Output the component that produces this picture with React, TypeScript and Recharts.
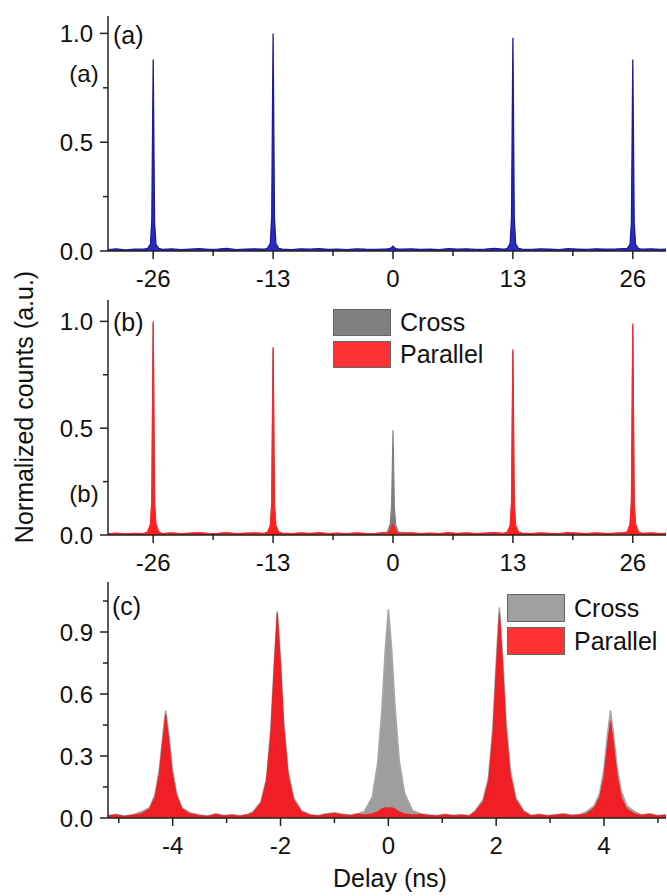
import { ComposedChart, Area, XAxis, YAxis, Legend } from "recharts"

const FONT = "Arial, 'Liberation Sans', Helvetica, sans-serif"
const INK = "#111"
const AXIS = "#222"

// panels (a) and (b): delay grid in ns
const delayWide = [
  -31, -30, -29, -28, -27,
  -26.6, -26.3, -26.15, -26, -25.85, -25.7, -25.4,
  -25, -24, -23, -22, -21, -20, -19, -18, -17, -16, -15, -14,
  -13.6, -13.3, -13.15, -13, -12.85, -12.7, -12.4,
  -12, -11, -10, -9, -8, -7, -6, -5, -4, -3, -2, -1,
  -0.6, -0.3, -0.15, 0, 0.15, 0.3, 0.6,
  1, 2, 3, 4, 5, 6, 7, 8, 9, 10, 11, 12,
  12.4, 12.7, 12.85, 13, 13.15, 13.3, 13.6,
  14, 15, 16, 17, 18, 19, 20, 21, 22, 23, 24, 25,
  25.4, 25.7, 25.85, 26, 26.15, 26.3, 26.6,
  27, 28, 29, 30,
]

const countsA = [
  0.006, 0.010, 0.005, 0.008, 0.009,
  0.012, 0.03, 0.14, 0.88, 0.13, 0.03, 0.012,
  0.007, 0.010, 0.006, 0.009, 0.011, 0.007, 0.008, 0.012, 0.006, 0.009, 0.010, 0.008,
  0.013, 0.035, 0.16, 1.0, 0.15, 0.035, 0.012,
  0.009, 0.006, 0.010, 0.008, 0.011, 0.007, 0.009, 0.006, 0.010, 0.008, 0.007, 0.009,
  0.010, 0.012, 0.016, 0.022, 0.015, 0.011, 0.009,
  0.008, 0.010, 0.007, 0.009, 0.006, 0.011, 0.008, 0.010, 0.007, 0.009, 0.012, 0.008,
  0.012, 0.034, 0.15, 0.98, 0.15, 0.033, 0.012,
  0.009, 0.007, 0.010, 0.008, 0.006, 0.011, 0.009, 0.007, 0.010, 0.008, 0.009, 0.011,
  0.012, 0.03, 0.13, 0.88, 0.13, 0.03, 0.012,
  0.008, 0.010, 0.007, 0.009,
]

const crossB = [
  0.005, 0.008, 0.004, 0.007, 0.006,
  0.012, 0.045, 0.15, 0.99, 0.14, 0.045, 0.012,
  0.006, 0.009, 0.005, 0.008, 0.010, 0.006, 0.007, 0.010, 0.005, 0.008, 0.009, 0.007,
  0.012, 0.04, 0.14, 0.87, 0.13, 0.04, 0.012,
  0.008, 0.005, 0.009, 0.007, 0.010, 0.006, 0.008, 0.005, 0.009, 0.007, 0.006, 0.012,
  0.014, 0.05, 0.14, 0.49, 0.13, 0.045, 0.013,
  0.012, 0.009, 0.006, 0.008, 0.005, 0.010, 0.007, 0.009, 0.006, 0.008, 0.010, 0.007,
  0.012, 0.04, 0.14, 0.86, 0.13, 0.04, 0.012,
  0.008, 0.006, 0.009, 0.007, 0.005, 0.010, 0.008, 0.006, 0.009, 0.007, 0.008, 0.010,
  0.012, 0.045, 0.15, 0.98, 0.14, 0.045, 0.012,
  0.007, 0.009, 0.006, 0.008,
]

const parallelB = [
  0.006, 0.009, 0.005, 0.008, 0.007,
  0.015, 0.05, 0.16, 1.0, 0.15, 0.05, 0.015,
  0.007, 0.010, 0.006, 0.009, 0.011, 0.007, 0.008, 0.011, 0.006, 0.009, 0.010, 0.008,
  0.014, 0.045, 0.15, 0.88, 0.14, 0.045, 0.014,
  0.009, 0.006, 0.010, 0.008, 0.011, 0.007, 0.009, 0.006, 0.010, 0.008, 0.007, 0.009,
  0.009, 0.02, 0.04, 0.05, 0.04, 0.018, 0.009,
  0.008, 0.010, 0.007, 0.009, 0.006, 0.011, 0.008, 0.010, 0.007, 0.009, 0.011, 0.008,
  0.014, 0.045, 0.15, 0.87, 0.14, 0.045, 0.014,
  0.009, 0.007, 0.010, 0.008, 0.006, 0.011, 0.009, 0.007, 0.010, 0.008, 0.009, 0.011,
  0.015, 0.05, 0.16, 0.99, 0.15, 0.05, 0.015,
  0.008, 0.010, 0.007, 0.009,
]

// panel (c): zoom around zero delay
const delayC = [
  -5.2, -5.05, -4.9, -4.75,
  -4.58, -4.43, -4.33, -4.25, -4.19, -4.13, -4.07, -4.01, -3.93, -3.83, -3.68,
  -3.5, -3.35, -3.2, -3.05, -2.9, -2.75, -2.6,
  -2.51, -2.36, -2.26, -2.18, -2.12, -2.06, -2.0, -1.94, -1.86, -1.76, -1.61,
  -1.45, -1.3, -1.15, -1.0, -0.85, -0.7, -0.55,
  -0.45, -0.3, -0.2, -0.12, -0.06, 0, 0.06, 0.12, 0.2, 0.3, 0.45,
  0.6, 0.75, 0.9, 1.05, 1.2, 1.35, 1.5,
  1.61, 1.76, 1.86, 1.94, 2.0, 2.06, 2.12, 2.18, 2.26, 2.36, 2.51,
  2.65, 2.8, 2.95, 3.1, 3.25, 3.4, 3.55,
  3.67, 3.82, 3.92, 4.0, 4.06, 4.12, 4.18, 4.24, 4.32, 4.42, 4.57,
  4.7, 4.85, 5.0, 5.15, 5.3,
]

const crossC = [
  0.012, 0.018, 0.010, 0.015,
  0.03, 0.05, 0.11, 0.23, 0.38, 0.52, 0.40, 0.24, 0.12, 0.05, 0.025,
  0.014, 0.010, 0.020, 0.012, 0.016, 0.011, 0.018,
  0.03, 0.08, 0.19, 0.43, 0.73, 1.0, 0.76, 0.46, 0.23, 0.1, 0.035,
  0.016, 0.012, 0.020, 0.025, 0.018, 0.014, 0.022,
  0.03, 0.1, 0.26, 0.52, 0.8, 1.01, 0.82, 0.55, 0.28, 0.12, 0.035,
  0.02, 0.015, 0.012, 0.018, 0.013, 0.016, 0.012,
  0.035, 0.09, 0.2, 0.44, 0.75, 1.02, 0.77, 0.47, 0.24, 0.1, 0.035,
  0.013, 0.018, 0.012, 0.016, 0.02, 0.014, 0.017,
  0.03, 0.06, 0.12, 0.24, 0.39, 0.52, 0.40, 0.25, 0.13, 0.06, 0.03,
  0.015, 0.02, 0.012, 0.016, 0.013,
]

const parallelC = [
  0.010, 0.015, 0.008, 0.014,
  0.02, 0.045, 0.10, 0.21, 0.36, 0.50, 0.37, 0.22, 0.11, 0.045, 0.02,
  0.012, 0.008, 0.018, 0.010, 0.014, 0.009, 0.016,
  0.025, 0.075, 0.18, 0.41, 0.71, 0.99, 0.74, 0.44, 0.21, 0.09, 0.03,
  0.014, 0.010, 0.018, 0.022, 0.016, 0.012, 0.02,
  0.015, 0.02, 0.03, 0.045, 0.05, 0.048, 0.05, 0.045, 0.03, 0.02, 0.015,
  0.018, 0.012, 0.010, 0.016, 0.011, 0.014, 0.01,
  0.03, 0.08, 0.18, 0.41, 0.71, 0.99, 0.74, 0.44, 0.21, 0.09, 0.03,
  0.011, 0.016, 0.010, 0.014, 0.018, 0.012, 0.015,
  0.02, 0.05, 0.1, 0.2, 0.34, 0.47, 0.35, 0.21, 0.1, 0.045, 0.02,
  0.013, 0.018, 0.01, 0.014, 0.011,
]

const wideTicks = [-26, -19.5, -13, -6.5, 0, 6.5, 13, 19.5, 26]
const wideMajors = [-26, -13, 0, 13, 26]
const unitTicks = [0, 0.25, 0.5, 0.75, 1]
const unitMajors = [0, 0.5, 1]
const nsTicks = [-5, -4, -3, -2, -1, 0, 1, 2, 3, 4, 5]
const nsMajors = [-4, -2, 0, 2, 4]
const cTicks = [0, 0.15, 0.3, 0.45, 0.6, 0.75, 0.9, 1.05]
const cMajors = [0, 0.3, 0.6, 0.9]

const rowsWide = delayWide.map((d, i) => ({ delay: d, a: countsA[i], cross: crossB[i], parallel: parallelB[i] }))
const rowsC = delayC.map((d, i) => ({ delay: d, cross: crossC[i], parallel: parallelC[i] }))

const axisLine = { stroke: AXIS, strokeWidth: 1.5 }

function BottomTick(props: any) {
  const { x, y, payload, majors } = props
  const major = majors.includes(payload.value)
  return (
    <g>
      <line x1={x} y1={y} x2={x} y2={y + (major ? 8 : 5)} stroke={AXIS} strokeWidth={1.5} />
      {major && (
        <text x={x} y={y + 36} textAnchor="middle" fontSize={24} fontFamily={FONT} fill={INK}>
          {payload.value}
        </text>
      )}
    </g>
  )
}

function LeftTick(props: any) {
  const { x, y, payload, majors } = props
  const major = majors.includes(payload.value)
  return (
    <g>
      <line x1={x} y1={y} x2={x - (major ? 8 : 5)} y2={y} stroke={AXIS} strokeWidth={1.5} />
      {major && (
        <text x={x - 15} y={y + 8.5} textAnchor="end" fontSize={24} fontFamily={FONT} fill={INK}>
          {payload.value.toFixed(1)}
        </text>
      )}
    </g>
  )
}

function TopTick(props: any) {
  const { x, y } = props
  return <line x1={x} y1={y} x2={x} y2={y + 7} stroke={AXIS} strokeWidth={1.5} />
}

function RightTick(props: any) {
  const { x, y, payload, majors } = props
  const major = majors.includes(payload.value)
  return <line x1={x} y1={y} x2={x - (major ? 7 : 4)} y2={y} stroke={AXIS} strokeWidth={1.5} />
}

function SwatchLegend(props: any) {
  const { payload, swatches, rowH } = props
  return (
    <div>
      {(payload || []).map((p: any) => (
        <div key={p.value} style={{ display: "flex", alignItems: "center", height: rowH, marginBottom: 5 }}>
          <div style={{ width: 56, height: rowH - 2, background: swatches[p.dataKey], border: "1px solid #666" }} />
          <span style={{ marginLeft: 9, fontSize: 25, color: INK, fontFamily: FONT, lineHeight: `${rowH}px` }}>
            {p.value}
          </span>
        </div>
      ))}
    </div>
  )
}

// panels (a) and (b) share the same frame; extra bottom margin keeps tick labels inside the svg
function WidePanel({ children, yMax, legend }: any) {
  return (
    <ComposedChart width={667} height={302} data={rowsWide} margin={{ top: 16, right: 1, left: 0, bottom: 12 }}>
      <XAxis
        xAxisId="b" dataKey="delay" type="number" domain={[-30.9, 29.6]} allowDataOverflow
        ticks={wideTicks} interval={0} tickSize={0} tickMargin={0} tickLine={false} height={39}
        axisLine={axisLine} tick={<BottomTick majors={wideMajors} />}
      />
      <XAxis xAxisId="t" orientation="top" dataKey="delay" type="number" domain={[-30.9, 29.6]} allowDataOverflow
        height={0} tick={false} tickLine={false} axisLine={axisLine} />
      <YAxis
        yAxisId="l" type="number" domain={[0, yMax]} allowDataOverflow ticks={unitTicks} interval={0}
        width={108} tickSize={0} tickMargin={0} tickLine={false} axisLine={axisLine}
        tick={<LeftTick majors={unitMajors} />}
      />
      <YAxis yAxisId="r" orientation="right" type="number" domain={[0, yMax]} allowDataOverflow width={0}
        tick={false} tickLine={false} axisLine={axisLine} />
      {legend}
      {children}
    </ComposedChart>
  )
}

export default function App() {
  return (
    <div style={{ position: "absolute", left: 0, top: 0, width: 667, height: 896, background: "#fff", fontFamily: FONT }}>
      <div style={{ position: "absolute", left: 0, top: 0 }}>
        <WidePanel yMax={1.08}>
          <Area xAxisId="b" yAxisId="l" dataKey="a" name="Counts" type="linear" fill="#2a2ac0" fillOpacity={1}
            stroke="#1c1c98" strokeWidth={1.3} dot={false} activeDot={false} isAnimationActive={false} />
        </WidePanel>
      </div>

      <div style={{ position: "absolute", left: 0, top: 284 }}>
        <WidePanel
          yMax={1.1}
          legend={
            <Legend
              layout="horizontal" verticalAlign="middle" align="center"
              wrapperStyle={{ position: "absolute", top: 25, left: 333, width: 240, margin: 0 }}
              content={<SwatchLegend swatches={{ cross: "#808080", parallel: "#ff3333" }} rowH={27} />}
            />
          }
        >
          <Area xAxisId="b" yAxisId="l" dataKey="cross" name="Cross" type="linear" fill="#7d7d7d" fillOpacity={1}
            stroke="#808080" strokeWidth={1.2} dot={false} activeDot={false} isAnimationActive={false} />
          <Area xAxisId="b" yAxisId="l" dataKey="parallel" name="Parallel" type="linear" fill="#ff1f1f" fillOpacity={1}
            stroke="#f52a2a" strokeWidth={1.2} dot={false} activeDot={false} isAnimationActive={false} />
        </WidePanel>
      </div>

      <div style={{ position: "absolute", left: 0, top: 566 }}>
        <ComposedChart width={667} height={330} data={rowsC} margin={{ top: 16, right: 1, left: 0, bottom: 0 }}>
          <XAxis
            xAxisId="b" dataKey="delay" type="number" domain={[-5.2, 5.15]} allowDataOverflow
            ticks={nsTicks} interval={0} tickSize={0} tickMargin={0} tickLine={false} height={78}
            axisLine={axisLine} tick={<BottomTick majors={nsMajors} />}
            label={{ value: "Delay (ns)", position: "insideBottom", offset: 9, dx: 3, fontSize: 25, fill: INK, fontFamily: FONT }}
          />
          <XAxis xAxisId="t" orientation="top" dataKey="delay" type="number" domain={[-5.2, 5.15]} allowDataOverflow
            ticks={nsTicks} interval={0} height={0} tickSize={0} tickMargin={0} tickLine={false}
            axisLine={axisLine} tick={<TopTick />} />
          <YAxis
            yAxisId="l" type="number" domain={[0, 1.142]} allowDataOverflow ticks={cTicks} interval={0}
            width={108} tickSize={0} tickMargin={0} tickLine={false} axisLine={axisLine}
            tick={<LeftTick majors={cMajors} />}
          />
          <YAxis yAxisId="r" orientation="right" type="number" domain={[0, 1.142]} allowDataOverflow ticks={cTicks}
            interval={0} width={0} tickSize={0} tickMargin={0} tickLine={false} axisLine={axisLine}
            tick={<RightTick majors={cMajors} />} />
          <Legend
            layout="horizontal" verticalAlign="middle" align="center"
            wrapperStyle={{ position: "absolute", top: 28, left: 507, width: 200, margin: 0 }}
            content={<SwatchLegend swatches={{ cross: "#a0a0a0", parallel: "#ff3333" }} rowH={28} />}
          />
          <Area xAxisId="b" yAxisId="l" dataKey="cross" name="Cross" type="linear" fill="#9e9e9e" fillOpacity={1}
            stroke="#a6a6a6" strokeWidth={1.6} dot={false} activeDot={false} isAnimationActive={false} />
          <Area xAxisId="b" yAxisId="l" dataKey="parallel" name="Parallel" type="linear" fill="#ef1f25" fillOpacity={1}
            stroke="#ea2226" strokeWidth={1} dot={false} activeDot={false} isAnimationActive={false} />
        </ComposedChart>
      </div>

      <svg width={667} height={896} style={{ position: "absolute", left: 0, top: 0, pointerEvents: "none" }}>
        <g fontFamily={FONT} fill={INK}>
          <text transform="translate(33,407) rotate(-90)" textAnchor="middle" fontSize={25}>
            Normalized counts (a.u.)
          </text>
          <text x={113} y={44} fontSize={25}>(a)</text>
          <text x={113} y={331} fontSize={25}>(b)</text>
          <text x={112} y={615} fontSize={25}>(c)</text>
          <text x={84} y={82} textAnchor="middle" fontSize={24}>(a)</text>
          <text x={84} y={502} textAnchor="middle" fontSize={24}>(b)</text>
        </g>
      </svg>
    </div>
  )
}
